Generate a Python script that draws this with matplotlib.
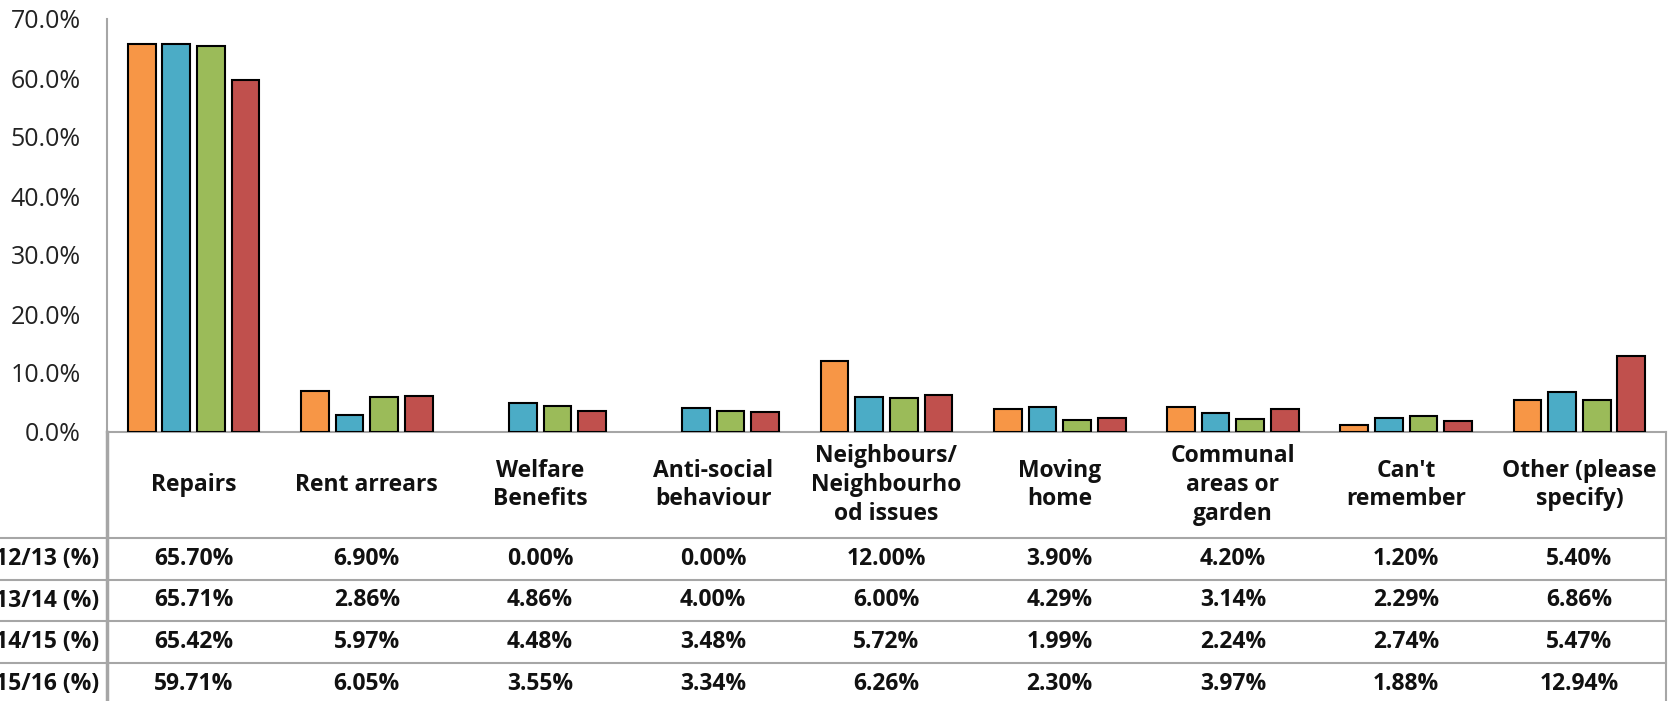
import numpy as np
import matplotlib.pyplot as plt
from matplotlib.ticker import PercentFormatter

categories = ["Repairs", "Rent arrears", "Welfare\nBenefits", "Anti-social\nbehaviour",
              "Neighbours/\nNeighbourho\nod issues", "Moving\nhome",
              "Communal\nareas or\ngarden", "Can't\nremember", "Other (please\nspecify)"]
years = ["2012/13 (%)", "2013/14 (%)", "2014/15 (%)", "2015/16 (%)"]
v1213 = [65.70, 6.90, 0.00, 0.00, 12.00, 3.90, 4.20, 1.20, 5.40]
v1314 = [65.71, 2.86, 4.86, 4.00, 6.00, 4.29, 3.14, 2.29, 6.86]
v1415 = [65.42, 5.97, 4.48, 3.48, 5.72, 1.99, 2.24, 2.74, 5.47]
v1516 = [59.71, 6.05, 3.55, 3.34, 6.26, 2.30, 3.97, 1.88, 12.94]
series = [v1213, v1314, v1415, v1516]
colors = ["#F79646", "#4BACC6", "#9BBB59", "#C0504D"]

plt.rcParams['font.family'] = ['Open Sans', 'DejaVu Sans']
grid_col = "#A6A6A6"

W, H = 1670, 701
fig = plt.figure(figsize=(W / 100, H / 100), dpi=100)

# chart area (pixel geometry of the reference)
x0, x1 = 107, 1666
y_top, y_base = 19, 432
ax = fig.add_axes([x0 / W, 1 - y_base / H, (x1 - x0) / W, (y_base - y_top) / H])

x = np.arange(len(categories))
for i, (vals, c) in enumerate(zip(series, colors)):
    edges = ["black" if v > 0 else "none" for v in vals]
    ax.bar(x + (i - 1.5) * 0.2, vals, width=0.16, color=c, edgecolor=edges,
           linewidth=1.5, zorder=3)

ax.set_xlim(-0.5, len(categories) - 0.5)
ax.set_ylim(0, 70)
ax.set_yticks(np.arange(0, 71, 10))
ax.yaxis.set_major_formatter(PercentFormatter(decimals=1))
ax.tick_params(axis='y', length=0, pad=19, labelsize=18, labelcolor="#222222")
ax.set_xticks([])
for s in ["top", "right"]:
    ax.spines[s].set_visible(False)
ax.spines["left"].set_color(grid_col)
ax.spines["bottom"].set_color(grid_col)
ax.spines["left"].set_linewidth(1.5)
ax.spines["bottom"].set_linewidth(1.5)

# data table below
tb = fig.add_axes([x0 / W, 0, (x1 - x0) / W, (H - y_base) / H])
tb.set_xlim(-0.5, len(categories) - 0.5)
tb.set_ylim(H, y_base)
tb.axis("off")

col_px = (x1 - x0) / len(categories)
row_edges = [538, 580, 621, 663, 705]
left_x = -0.5 - x0 / col_px
for y in row_edges[:-1]:
    tb.plot([left_x, len(categories) - 0.5], [y, y], color=grid_col, lw=1.5,
            clip_on=False)
tb.plot([-0.5, -0.5], [y_base, H], color=grid_col, lw=2.5, clip_on=False)
tb.plot([len(categories) - 0.5] * 2, [y_base, H], color=grid_col, lw=1.5,
        clip_on=False)

fs = 16.5
head_mid = (y_base + row_edges[0]) / 2
for j, cat in enumerate(categories):
    tb.text(j, head_mid, cat, ha="center", va="center", fontsize=fs,
            fontweight="bold", linespacing=1.25, color="#111111")

for r, (yr, vals) in enumerate(zip(years, series)):
    ym = (row_edges[r] + row_edges[r + 1]) / 2
    tb.text(-0.5 - 8 / col_px, ym, yr, ha="right", va="center", fontsize=fs,
            fontweight="bold", color="#111111", clip_on=False)
    for j, v in enumerate(vals):
        tb.text(j, ym, f"{v:.2f}%", ha="center", va="center", fontsize=fs,
                fontweight="bold", color="#111111")

fig.savefig("out.png", dpi=100)
